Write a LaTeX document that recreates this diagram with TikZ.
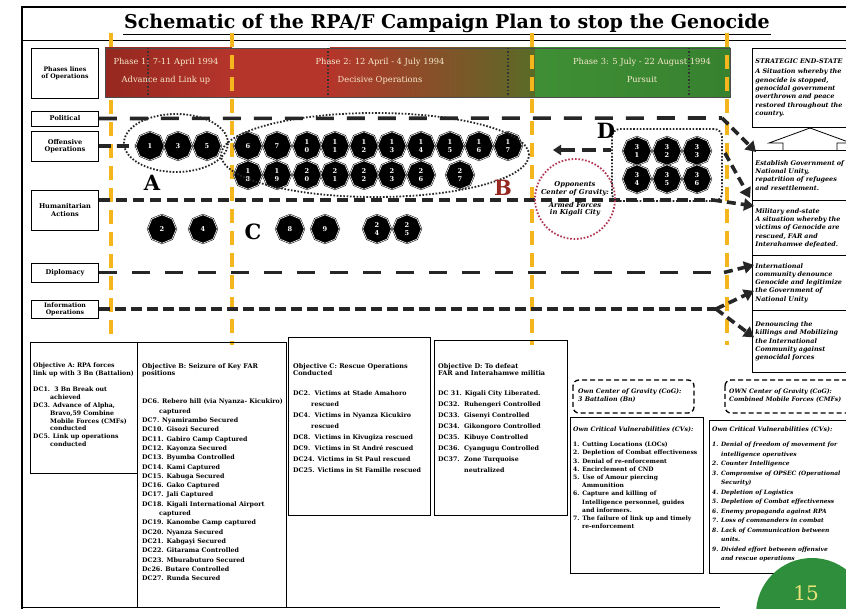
\documentclass[tikz,border=0pt]{standalone}
\usepackage{fontspec}
\setmainfont{DejaVu Serif}
\usetikzlibrary{arrows.meta,positioning,calc,shapes.geometric}
\definecolor{phRedD}{HTML}{952820}
\definecolor{phRed}{HTML}{B5352B}
\definecolor{phOlive}{HTML}{596B27}
\definecolor{phGreen}{HTML}{3F8F35}
\definecolor{phGreenD}{HTML}{37812F}
\definecolor{phText}{HTML}{F7E9CB}
\definecolor{opsOrange}{HTML}{F5B51C}
\definecolor{cogRed}{HTML}{B03654}
\definecolor{pageGreen}{HTML}{2E8E3B}
\definecolor{pageYellow}{HTML}{E9E27A}
\def\octsplit#1#2\relax{\ifx\relax#2\relax#1\else\shortstack{#1\\#2}\fi}
\newcommand\octnum[1]{\expandafter\octsplit#1\relax}

\begin{document}
\begin{tikzpicture}[x=1pt, y=-1pt,
  font=\fontsize{6.2}{7.5}\selectfont\bfseries,
  lblbox/.style={draw, line width=0.8pt, fill=white, text width=64pt, align=center, inner sep=1.5pt, font=\fontsize{6.6}{7.4}\selectfont\bfseries},
  endbox/.style={draw, line width=0.8pt, fill=white, anchor=north west, text width=110pt, align=left, inner sep=3pt, font=\fontsize{6.4}{8.3}\selectfont\bfseries\itshape},
  oct/.style={regular polygon, regular polygon sides=8, shape border rotate=22.5, minimum size=28.5pt, inner sep=0pt, fill=black, draw=black, line width=0.5pt, double=white, double distance=0.6pt, text=white, font=\fontsize{6.6}{6.6}\selectfont\bfseries},
  opsline/.style={line width=3.6pt, black!85},
  orangeline/.style={line width=4pt, opsOrange, dash pattern=on 14pt off 8pt},
  dotring/.style={line width=1.8pt, black!85, dash pattern=on 1.6pt off 1.7pt},
  endarrow/.style={line width=3.6pt, black!85, dash pattern=on 9pt off 5pt, -{Triangle[length=10pt, width=12pt]}},
  bigletter/.style={font=\fontsize{21}{21}\selectfont\bfseries},
  phasetext/.style={text=phText, font=\fontsize{8.3}{9}\selectfont},
  listtext/.style={anchor=north west, inner sep=0pt, align=left},
  objbox/.style={line width=0.9pt},
  cogbox/.style={line width=1.3pt, dash pattern=on 5pt off 3pt, rounded corners=6pt},
]
\useasboundingbox (0,0) rectangle (846,609);
\fill[white] (0,0) rectangle (846,609);

% ---------- frame and title ----------
\draw[line width=2pt] (22,7) -- (846,7);
\draw[line width=2.2pt] (22,6) -- (22,609);
\draw[line width=1pt] (22,41) -- (846,41);
\draw[line width=0.9pt] (22,607) -- (720,607);
\node[font=\fontsize{19}{20}\selectfont\bfseries, inner sep=1pt] (title) at (447,23) {Schematic of the RPA/F Campaign Plan to stop the Genocide};
\draw[line width=1.2pt] ([yshift=-1pt]title.south west) -- ([yshift=-1pt]title.south east);

% ---------- phase band ----------
\shade[left color=phRedD, right color=phRed] (105,48) rectangle (232,97);
\fill[phRed] (232,48) rectangle (330,97);
\shade[left color=phRed, right color=phOlive] (330,48) rectangle (535,97);
\shade[left color=phGreen, right color=phGreenD] (535,48) rectangle (730,97);
\draw[line width=0.8pt, black!70] (105,48) rectangle (730,97);
\foreach \x in {148,328,508,689}
  \draw[line width=1.2pt, black!80, dash pattern=on 1.5pt off 2pt] (\x,48) -- (\x,97);
\node[phasetext] (ph1) at (166,62) {Phase 1: 7-11 April 1994};
\node[phasetext] (ph1b) at (166,80) {Advance and Link up};
\node[phasetext] (ph2) at (380,62) {Phase 2: 12 April - 4 July 1994};
\node[phasetext] (ph2b) at (380,80) {Decisive Operations};
\node[phasetext] (ph3) at (642,62) {Phase 3: 5 July - 22 August 1994};
\node[phasetext] (ph3b) at (642,80) {Pursuit};

% ---------- phase boundaries ----------
\draw[orangeline] (111,33) -- (111,47);
\draw[orangeline] (111,100) -- (111,338);
\foreach \x in {232,532,727}
  \draw[orangeline] (\x,33) -- (\x,345);

% ---------- lines of operation ----------
\node[lblbox, minimum height=50pt, font=\fontsize{6.2}{7.2}\selectfont\bfseries] (lPhase) at (65,73) {Phases lines\\of Operations};
\node[lblbox, minimum height=15pt] (lPol) at (65,118.5) {Political};
\node[lblbox, minimum height=30pt] (lOff) at (65,146) {Offensive\\Operations};
\node[lblbox, minimum height=40pt] (lHum) at (65,210) {Humanitarian\\Actions};
\node[lblbox, minimum height=19pt] (lDip) at (65,272.5) {Diplomacy};
\node[lblbox, minimum height=18pt, font=\fontsize{6.2}{6.8}\selectfont\bfseries] (lInfo) at (65,309) {Information\\Operations};

\coordinate (polEnd) at (722,118);
\coordinate (humEnd) at (713,200);
\coordinate (dipEnd) at (724,272.5);
\coordinate (infEnd) at (716,309);
\coordinate (offY) at (0,150);
\draw[opsline, dash pattern=on 18pt off 13pt] (lPol.east) -- (polEnd);
\draw[opsline, dash pattern=on 11pt off 6pt] (lHum.east |- humEnd) -- (humEnd);
\draw[opsline, dash pattern=on 18pt off 15pt] (lDip.east) -- (dipEnd);
\draw[opsline, dash pattern=on 11pt off 5pt] (lInfo.east) -- (infEnd);

% ---------- decisive conditions ----------
\foreach \n/\x in {1/150,3/178,5/207,6/248,7/277,10/307,11/335,12/364,13/392,14/421,15/450,16/479,17/508}
  \node[oct] (o\n) at (\x,146) {\octnum{\n}};
\foreach \n/\x in {18/248,19/277,20/307,21/335,22/364,23/392,26/421,27/460}
  \node[oct] (o\n) at (\x,175) {\octnum{\n}};
\foreach \n/\x in {2/162,4/203,8/290,9/325,24/377,25/407}
  \node[oct] (o\n) at (\x,229) {\octnum{\n}};
\foreach \n/\x in {31/637,32/667,33/697}
  \node[oct] (o\n) at (\x,151) {\octnum{\n}};
\foreach \n/\x in {34/637,35/667,36/697}
  \node[oct] (o\n) at (\x,179) {\octnum{\n}};
\draw[opsline, dash pattern=on 12pt off 6pt] (lOff.east) -- (o1.west);

% ---------- objectives ----------
\draw[dotring] (176,143) ellipse [x radius=52pt, y radius=29pt];
\draw[dotring] (375,155) ellipse [x radius=154pt, y radius=42pt];
\node[draw, dotring, rounded corners=8pt, minimum width=110pt, minimum height=72pt] (dBox) at (667,165) {};
\node[circle, minimum size=80pt, draw=cogRed, line width=1.8pt, dash pattern=on 1.6pt off 1.8pt, align=center, inner sep=0pt, font=\fontsize{6.8}{7.8}\selectfont\bfseries\itshape] (cog) at (575,199) {Opponents\\Center of Gravity:\\[5pt]Armed Forces\\in Kigali City};
\draw[opsline, dash pattern=on 14pt off 7pt, {Triangle[length=8pt, width=10pt]}-] (553,150) -- (dBox.west |- offY);
\node[bigletter] (lA) at (152,183) {A};
\node[bigletter, text=phRedD] (lB) at (503,188) {B};
\node[bigletter] (lC) at (253,232) {C};
\node[bigletter] (lD) at (606,131) {D};

% ---------- strategic end-state ----------
\node[endbox, minimum height=79pt] (ses) at (752,48) {STRATEGIC END-STATE\\[2pt]A Situation whereby the\\genocide is stopped,\\genocidal government\\overthrown and peace\\restored throughout the\\country.};
\draw[line width=0.8pt, fill=white] (783,150) -- (783,143) -- (769,143) -- (810,128) -- (851,143) -- (837,143) -- (837,150);
\node[endbox, minimum height=50pt] (esGov) at (752,150) {Establish Government of\\National Unity,\\repatrition of refugees\\and resettlement.};
\node[endbox, minimum height=55pt] (milit) at (752,200) {Military end-state\\A situation whereby the\\victims of Genocide are\\rescued, FAR and\\Interahamwe defeated.};
\node[endbox, minimum height=55pt] (intl) at (752,255) {International\\community denounce\\Genocide and legitimize\\the Government of\\National Unity};
\node[endbox, minimum height=62pt] (denounce) at (752,310) {Denouncing the\\killings and Mobilizing\\the International\\Community against\\genocidal forces};

\draw[endarrow] (polEnd) -- ($(esGov.north west)+(4,2)$);
\draw[endarrow] ($(dBox.east)+(2,-12)$) -- ($(milit.north west)+(-2,-2)$);
\draw[endarrow] (humEnd) -- ($(milit.north west)+(2,6)$);
\draw[endarrow] (dipEnd) -- ($(intl.north west)+(2,10)$);
\draw[endarrow] (infEnd) -- ($(intl.west)+(2,8)$);
\draw[endarrow] (infEnd) -- ($(denounce.west)+(2,-4)$);

% ---------- objective boxes ----------
\draw[objbox] (30,342) rectangle (137,473);
\draw[objbox] (137,342) rectangle (286,607);
\draw[objbox] (288,337) rectangle (430,515);
\draw[objbox] (434,340) rectangle (567,515);
\node[listtext, font=\fontsize{6.2}{7.6}\selectfont\bfseries] (objA) at (33,363) {Objective A: RPA forces\\link up with 3 Bn (Battalion)};
\node[listtext, font=\fontsize{6.2}{7.8}\selectfont\bfseries] (dcA) at (33,387) {DC1.\ \ 3 Bn Break out\\\hspace*{17pt}achieved\\DC3. Advance of Alpha,\\\hspace*{17pt}Bravo,59 Combine\\\hspace*{17pt}Mobile Forces (CMFs)\\\hspace*{17pt}conducted\\DC5. Link up operations\\\hspace*{17pt}conducted};
\node[listtext, font=\fontsize{6.5}{7.8}\selectfont\bfseries] (objB) at (142,363) {Objective B: Seizure of Key FAR\\positions};
\node[listtext, font=\fontsize{6.3}{9.3}\selectfont\bfseries] (dcB) at (142,399) {DC6. Rebero hill (via Nyanza- Kicukiro)\\\hspace*{17pt}captured\\DC7. Nyamirambo Secured\\DC10. Gisozi Secured\\DC11. Gabiro Camp Captured\\DC12. Kayonza Secured\\DC13. Byumba Controlled\\DC14. Kami Captured\\DC15. Kabuga Secured\\DC16. Gako Captured\\DC17. Jali Captured\\DC18. Kigali International Airport\\\hspace*{17pt}captured\\DC19. Kanombe Camp captured\\DC20. Nyanza Secured\\DC21. Kabgayi Secured\\DC22. Gitarama Controlled\\DC23. Mburabuturo Secured\\Dc26. Butare Controlled\\DC27. Runda Secured};
\node[listtext, font=\fontsize{6.5}{7.8}\selectfont\bfseries] (objC) at (293,363) {Objective C: Rescue Operations\\Conducted};
\node[listtext, font=\fontsize{6.3}{11}\selectfont\bfseries] (dcC) at (293,391) {DC2.\ \ Victims at Stade Amahoro\\\hspace*{18pt}rescued\\DC4.\ \ Victims in Nyanza Kicukiro\\\hspace*{18pt}rescued\\DC8.\ \ Victims in Kivugiza rescued\\DC9.\ \ Victims in St André rescued\\DC24. Victims in St Paul rescued\\DC25. Victims in St Famille rescued};
\node[listtext, font=\fontsize{6.5}{7.8}\selectfont\bfseries] (objD) at (438,363) {Objective D: To defeat\\FAR and Interahamwe militia};
\node[listtext, font=\fontsize{6.3}{11}\selectfont\bfseries] (dcD) at (438,391) {DC 31. Kigali City Liberated.\\DC32.\ \ Ruhengeri Controlled\\DC33.\ \ Gisenyi Controlled\\DC34.\ \ Gikongoro Controlled\\DC35.\ \ Kibuye Controlled\\DC36.\ \ Cyangugu Controlled\\DC37.\ \ Zone Turquoise\\\hspace*{26pt}neutralized};

% ---------- centres of gravity and vulnerabilities ----------
\draw[cogbox] (573,380) rectangle (694,413);
\draw[cogbox] (725,380) rectangle (860,413);
\node[listtext, anchor=west, font=\fontsize{6.3}{8}\selectfont\bfseries\itshape] (cogOwn) at (578,396) {Own Center of Gravity (CoG):\\3 Battalion (Bn)};
\node[listtext, anchor=west, font=\fontsize{6.1}{8}\selectfont\bfseries\itshape] (cogCmf) at (729,396) {OWN Center of Gravity (CoG):\\Combined Mobile Forces (CMFs)};
\draw[objbox] (570,417) rectangle (703,573);
\draw[objbox] (709,420) rectangle (860,573);
\node[listtext, font=\fontsize{6.2}{7}\selectfont\bfseries\itshape] (cvHead) at (573,427) {Own Critical Vulnerabilities (CVs):};
\node[listtext, font=\fontsize{6}{8.2}\selectfont\bfseries] (cvList) at (573,442) {1. Cutting Locations (LOCs)\\2. Depletion of Combat effectiveness\\3. Denial of re-enforcement\\4. Encirclement of CND\\5. Use of Amour piercing\\\hspace*{9pt}Ammunition\\6. Capture and killing of\\\hspace*{9pt}Intelligence personnel, guides\\\hspace*{9pt}and informers.\\7. The failure of link up and timely\\\hspace*{9pt}re-enforcement};
\node[listtext, font=\fontsize{6.2}{7}\selectfont\bfseries\itshape] (cvHeadR) at (712,427) {Own Critical Vulnerabilities (CVs):};
\node[listtext, font=\fontsize{5.9}{9.5}\selectfont\bfseries\itshape] (cvListR) at (712,442) {1. Denial of freedom of movement for\\\hspace*{9pt}intelligence operatives\\2. Counter Intelligence\\3. Compromise of OPSEC (Operational\\\hspace*{9pt}Security)\\4. Depletion of Logistics\\5. Depletion of Combat effectiveness\\6. Enemy propaganda against RPA\\7. Loss of commanders in combat\\8. Lack of Communication between\\\hspace*{9pt}units.\\9. Divided effort between offensive\\\hspace*{9pt}and rescue operations};

% ---------- page number ----------
\fill[pageGreen] (812,614) circle[radius=56pt];
\node[font=\fontsize{20}{20}\selectfont, text=pageYellow] (pageNo) at (806,593) {15};
\end{tikzpicture}
\end{document}
